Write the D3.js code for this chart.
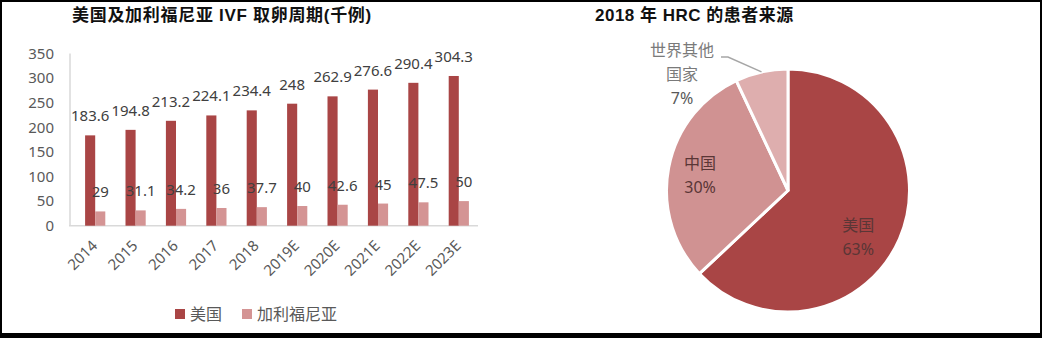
<!DOCTYPE html>
<html><head><meta charset="utf-8">
<script src="https://cdn.jsdelivr.net/npm/d3@7"></script>
<style>
body{margin:0;background:#fff}
text{font-family:"Noto Sans","Noto Sans CJK SC",sans-serif}
</style>
</head><body>
<svg id="c" width="1042" height="338"></svg>
<script>
// ---- data ----
const years = ["2014","2015","2016","2017","2018","2019E","2020E","2021E","2022E","2023E"];
const usCycles = [183.6,194.8,213.2,224.1,234.4,248,262.9,276.6,290.4,304.3];
const caCycles = [29,31.1,34.2,36,37.7,40,42.6,45,47.5,50];
const yTicks = [0,50,100,150,200,250,300,350];
const seriesNames = ["美国","加利福尼亚"];
const barTitle = "美国及加利福尼亚 IVF 取卵周期(千例)";
const pieTitle = "2018 年 HRC 的患者来源";
const pieNames = ["美国","中国","世界其他国家"];
const pieValues = [63,30,7];

// ---- styles ----
const barColors = ["#A94545","#D49494"];
const pieColors = ["#A94545","#D09292","#DEAEAE"];

const svg = d3.select("#c");
svg.append("rect").attr("width",1042).attr("height",338).attr("fill","#fff");

// ===== bar chart =====
const x0 = d3.scaleBand().domain(years).range([75,479]).paddingInner(0.5).paddingOuter(0.25);
const x1 = d3.scaleBand().domain([0,1]).range([0,x0.bandwidth()]);
const y = d3.scaleLinear().domain([0,350]).range([225.7,53.5]);

const rows = years.map((yr,i)=>({yr, vals:[usCycles[i], caCycles[i]]}));

// axes lines
svg.append("line").attr("x1",70).attr("x2",70).attr("y1",y(350)).attr("y2",y(0))
  .attr("stroke","#d9d9d9").attr("stroke-width",1.5);
svg.append("line").attr("x1",69).attr("x2",478).attr("y1",y(0)).attr("y2",y(0))
  .attr("stroke","#d9d9d9").attr("stroke-width",1.5);

const yAxis = svg.append("g").attr("transform","translate(70,0)")
  .call(d3.axisLeft(y).tickValues(yTicks).tickSize(0).tickPadding(16));
yAxis.select(".domain").remove();
yAxis.selectAll("text").attr("font-size",15).attr("fill","#595959")
  .style("font-family",'"Noto Sans",sans-serif');

const xAxis = svg.append("g").attr("transform",`translate(0,${y(0)})`)
  .call(d3.axisBottom(x0).tickSize(0));
xAxis.select(".domain").remove();
xAxis.selectAll("text").attr("y",null).attr("dy",null).attr("x",null)
  .attr("text-anchor","end").attr("transform","translate(3,21) rotate(-45)")
  .attr("font-size",15).attr("fill","#595959")
  .style("font-family",'"Noto Sans",sans-serif');

const groups = svg.append("g").selectAll("g").data(rows).join("g")
  .attr("transform",d=>`translate(${x0(d.yr)},0)`);
groups.selectAll("rect").data(d=>d.vals).join("rect")
  .attr("x",(d,i)=>x1(i)).attr("width",x1.bandwidth())
  .attr("y",d=>y(d)).attr("height",d=>y(0)-y(d))
  .attr("fill",(d,i)=>barColors[i]);
groups.selectAll("text").data(d=>d.vals).join("text")
  .attr("x",(d,i)=>x1(i)+x1.bandwidth()/2).attr("y",d=>y(d)-14)
  .attr("text-anchor","middle").attr("font-size",15).attr("fill","#404040")
  .text(d=>d);

// legend
const legX = [175,242];
seriesNames.forEach((n,i)=>{
  svg.append("rect").attr("x",legX[i]).attr("y",309).attr("width",10).attr("height",10).attr("fill",barColors[i]);
  svg.append("text").attr("x",legX[i]+15).attr("y",320).attr("font-size",16).attr("fill","#595959")
    .style("font-family",'"Noto Sans CJK SC",sans-serif').text(n);
});

// titles
svg.append("text").attr("x",72).attr("y",21).attr("font-size",17).attr("font-weight","bold")
  .attr("letter-spacing",0.7)
  .attr("fill","#111").style("font-family",'"Liberation Sans","Noto Sans CJK SC",sans-serif').text(barTitle);
svg.append("text").attr("x",595).attr("y",21).attr("font-size",17).attr("font-weight","bold")
  .attr("letter-spacing",0.5)
  .attr("fill","#111").style("font-family",'"Liberation Sans","Noto Sans CJK SC",sans-serif').text(pieTitle);

// ===== pie =====
const cx = 788, cy = 190.5, R = 121.5;
const pie = d3.pie().sort(null).startAngle(0).endAngle(2*Math.PI);
const arcs = pie(pieValues);
const arc = d3.arc().innerRadius(0).outerRadius(R);
const pg = svg.append("g").attr("transform",`translate(${cx},${cy})`);
pg.selectAll("path").data(arcs).join("path")
  .attr("d",arc).attr("fill",(d,i)=>pieColors[i])
  .attr("stroke","#fff").attr("stroke-width",3).attr("stroke-linejoin","round");

// inside labels (first two slices)
const labelArc = d3.arc().innerRadius(R*0.72).outerRadius(R*0.72);
const nudge = [[-10,11],[-2,0]];
arcs.slice(0,2).forEach((a,i)=>{
  const [lx,ly] = labelArc.centroid(a);
  const tx = lx+nudge[i][0], ty = ly+nudge[i][1];
  const t = pg.append("text").attr("text-anchor","middle").attr("font-size",16).attr("fill","#5a3636")
    .style("font-family",'"Noto Sans CJK SC",sans-serif');
  t.append("tspan").attr("x",tx).attr("y",ty-5).text(pieNames[i]);
  t.append("tspan").attr("x",tx).attr("y",ty+19).style("font-family",'"Noto Sans",sans-serif')
    .text(Math.round(pieValues[i]/d3.sum(pieValues)*100)+"%");
});

// outside label for last slice with leader line
const edgeArc = d3.arc().innerRadius(R).outerRadius(R);
const last = arcs[2];
const [ex,ey] = edgeArc.centroid(last);
const lab = {x:682-cx, y:56-cy};
pg.append("polyline")
  .attr("points",[[lab.x+39,lab.y+1],[lab.x+46,lab.y+1],[ex,ey]].map(p=>p.join(",")).join(" "))
  .attr("fill","none").attr("stroke","#a6a6a6").attr("stroke-width",1.5);
const nm = pieNames[2];
const lt = pg.append("text").attr("text-anchor","middle").attr("font-size",16).attr("fill","#7a7a7a")
  .style("font-family",'"Noto Sans CJK SC",sans-serif');
lt.append("tspan").attr("x",lab.x).attr("y",lab.y).text(nm.slice(0,4));
lt.append("tspan").attr("x",lab.x).attr("y",lab.y+24).text(nm.slice(4));
lt.append("tspan").attr("x",lab.x).attr("y",lab.y+48).attr("fill","#595959").style("font-family",'"Noto Sans",sans-serif')
  .text(Math.round(pieValues[2]/d3.sum(pieValues)*100)+"%");

// frame border
svg.append("rect").attr("x",0).attr("y",0).attr("width",1042).attr("height",2).attr("fill","#000");
svg.append("rect").attr("x",0).attr("y",0).attr("width",2).attr("height",338).attr("fill","#000");
svg.append("rect").attr("x",1040).attr("y",0).attr("width",2).attr("height",338).attr("fill","#000");
svg.append("rect").attr("x",0).attr("y",333).attr("width",1042).attr("height",5).attr("fill","#000");
</script>
</body></html>
